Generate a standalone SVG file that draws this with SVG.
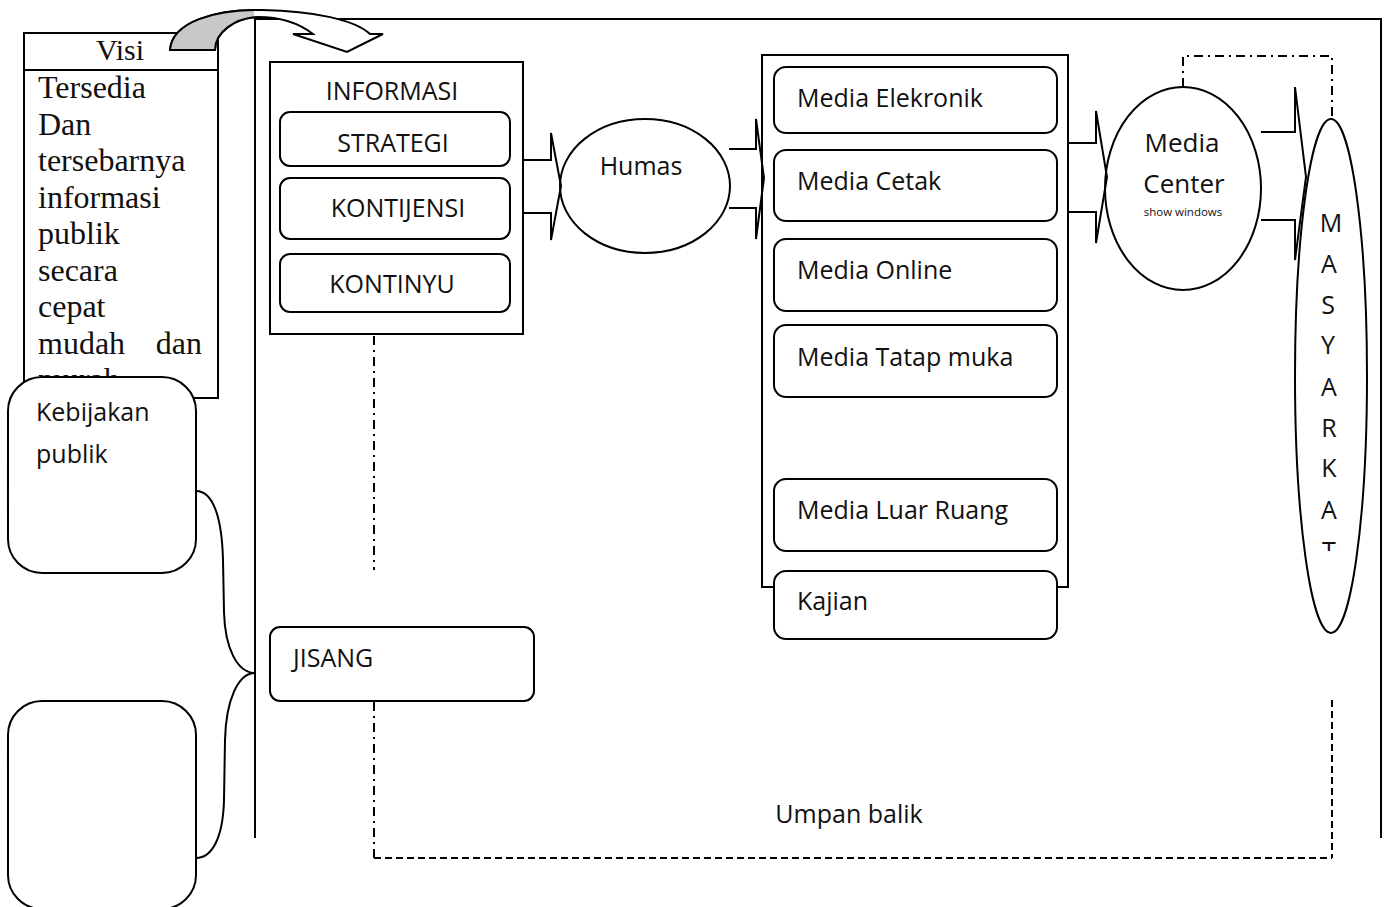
<svg xmlns="http://www.w3.org/2000/svg" width="1388" height="907" viewBox="0 0 1388 907">
  <style>
    .ln { fill: none; stroke: #000; stroke-width: 2; }
    .box { fill: #fff; stroke: #000; stroke-width: 2; }
    .blk { fill: none; stroke: #000; stroke-width: 2; stroke-linejoin: miter; }
    .sans { font-family: "Open Sans", "Noto Sans", "DejaVu Sans", sans-serif; font-size: 25px; fill: #111; }
    .serif { font-family: "Liberation Serif", "DejaVu Serif", serif; font-size: 32px; fill: #111; }
    .big { font-size: 26px; }
    .tiny { font-size: 11.5px; }
    .head { font-size: 30px; }
    .dashdot { fill: none; stroke: #000; stroke-width: 2; stroke-dasharray: 9 5 2 5; }
    .dash { fill: none; stroke: #000; stroke-width: 2; stroke-dasharray: 7 4; }
  </style>
  <defs>
    <clipPath id="leftOfFrame"><rect x="0" y="0" width="254" height="100"/></clipPath>
    <clipPath id="masyClip"><rect x="1290" y="100" width="90" height="451"/></clipPath>
  </defs>
  <rect width="1388" height="907" fill="#fff"/>

  <!-- Visi panel -->
  <g id="visi">
    <rect class="box" x="24" y="33" width="194" height="365"/>
    <line class="ln" x1="24" y1="70" x2="218" y2="70"/>
    <text class="serif head" x="120" y="60" text-anchor="middle">Visi</text>
    <text class="serif" x="38" y="98">Tersedia</text>
    <text class="serif" x="38" y="135">Dan</text>
    <text class="serif" x="38" y="171">tersebarnya</text>
    <text class="serif" x="38" y="208">informasi</text>
    <text class="serif" x="38" y="244">publik</text>
    <text class="serif" x="38" y="281">secara</text>
    <text class="serif" x="38" y="317">cepat</text>
    <text class="serif" x="38" y="354">mudah</text>
    <text class="serif" x="202" y="354" text-anchor="end">dan</text>
    <text class="serif" x="38" y="390">murah</text>
  </g>

  <!-- outer frame -->
  <g id="frame">
    <line class="ln" x1="255" y1="10" x2="255" y2="838"/>
    <polyline class="ln" points="255,19 1381,19 1381,838"/>
  </g>

  <!-- curved arrow from Visi to INFORMASI -->
  <g id="visi-arrow">
    <path d="M170,50 C172,22 215,9 262,10 C315,11 355,20 370,34 L383,34 L347,52 L293,34 L313,34 C300,24 282,17 258,17 C235,18 215,32 215,50 Z" fill="#fff" stroke="#000" stroke-width="2"/>
    <path d="M170,50 C172,22 215,9 262,10 C315,11 355,20 370,34 L383,34 L347,52 L293,34 L313,34 C300,24 282,17 258,17 C235,18 215,32 215,50 Z" fill="#c8c8c8" stroke="#000" stroke-width="2" clip-path="url(#leftOfFrame)"/>
  </g>

  <!-- Kebijakan publik -->
  <g id="kebijakan">
    <rect class="box" x="8" y="377" width="188" height="196" rx="34"/>
    <text class="sans" x="36" y="421">Kebijakan</text>
    <text class="sans" x="36" y="463">publik</text>
  </g>

  <!-- empty box bottom left -->
  <g id="kosong">
    <rect class="box" x="8" y="701" width="188" height="208" rx="34"/>
  </g>

  <!-- INFORMASI -->
  <g id="informasi">
    <rect class="box" x="270" y="62" width="253" height="272"/>
    <text class="sans" x="392" y="100" text-anchor="middle">INFORMASI</text>
  </g>
  <g id="strategi">
    <rect class="box" x="280" y="112" width="230" height="54" rx="10"/>
    <text class="sans" x="393" y="152" text-anchor="middle">STRATEGI</text>
  </g>
  <g id="kontijensi">
    <rect class="box" x="280" y="178" width="230" height="61" rx="10"/>
    <text class="sans" x="398" y="217" text-anchor="middle">KONTIJENSI</text>
  </g>
  <g id="kontinyu">
    <rect class="box" x="280" y="254" width="230" height="58" rx="10"/>
    <text class="sans" x="392" y="293" text-anchor="middle">KONTINYU</text>
  </g>

  <!-- JISANG -->
  <g id="jisang">
    <rect class="box" x="270" y="627" width="264" height="74" rx="10"/>
    <text class="sans" x="293" y="667">JISANG</text>
  </g>

  <!-- Humas -->
  <g id="humas">
    <ellipse class="box" cx="645" cy="186" rx="85" ry="67"/>
    <text class="sans" x="641" y="175" text-anchor="middle">Humas</text>
  </g>

  <!-- Media channels -->
  <g id="media">
    <rect class="box" x="762" y="55" width="306" height="532"/>
  </g>
  <g id="media-elektronik">
    <rect class="box" x="774" y="67" width="283" height="66" rx="12"/>
    <text class="sans" x="797" y="107">Media Elekronik</text>
  </g>
  <g id="media-cetak">
    <rect class="box" x="774" y="150" width="283" height="71" rx="12"/>
    <text class="sans" x="797" y="190">Media Cetak</text>
  </g>
  <g id="media-online">
    <rect class="box" x="774" y="239" width="283" height="72" rx="12"/>
    <text class="sans" x="797" y="279">Media Online</text>
  </g>
  <g id="media-tatap-muka">
    <rect class="box" x="774" y="325" width="283" height="72" rx="12"/>
    <text class="sans" x="797" y="366">Media Tatap muka</text>
  </g>
  <g id="media-luar-ruang">
    <rect class="box" x="774" y="479" width="283" height="72" rx="12"/>
    <text class="sans" x="797" y="519">Media Luar Ruang</text>
  </g>
  <g id="kajian">
    <rect class="box" x="774" y="571" width="283" height="68" rx="12"/>
    <text class="sans" x="797" y="610">Kajian</text>
  </g>

  <!-- Media Center -->
  <g id="media-center">
    <ellipse class="box" cx="1183" cy="188.5" rx="78" ry="101.5"/>
    <text class="sans big" x="1182" y="152" text-anchor="middle">Media</text>
    <text class="sans big" x="1184" y="193" text-anchor="middle">Center</text>
    <text class="sans tiny" x="1183" y="216" text-anchor="middle">show windows</text>
  </g>

  <!-- MASYARAKAT -->
  <g id="masyarakat">
    <ellipse class="box" cx="1331" cy="376" rx="36" ry="257"/>
    <g clip-path="url(#masyClip)" class="sans" text-anchor="middle">
      <text x="1331" y="232">M</text>
      <text x="1329" y="273">A</text>
      <text x="1328" y="314">S</text>
      <text x="1328" y="354">Y</text>
      <text x="1329" y="396">A</text>
      <text x="1329" y="437">R</text>
      <text x="1329" y="477">K</text>
      <text x="1329" y="519">A</text>
      <text x="1329" y="560">T</text>
    </g>
  </g>

  <!-- connectors -->
  <g id="connectors">
    <path class="blk" d="M523,160 L551,160 L551,133 L561,186 L551,240 L551,213 L523,213"/>
    <path class="blk" d="M729,149 L756,149 L756,119 L764,178 L756,239 L756,208 L729,208"/>
    <path class="blk" d="M1068,143 L1096,143 L1096,111 L1107,177 L1096,243 L1096,212 L1068,212"/>
    <path class="blk" d="M1261,132 L1295,132 L1295,87 L1306,177 L1295,260 L1295,220 L1261,220"/>

    <!-- brace joining the policy boxes to the frame -->
    <path class="ln" d="M196,491 C214,491 222,520 223,560 L224,612 C225,650 238,672 254,673 C238,674 226,700 225,740 L224,800 C223,838 212,858 196,858"/>

    <!-- dash-dot links -->
    <line class="dashdot" x1="374" y1="336" x2="374" y2="570"/>
    <polyline class="dashdot" points="1183,87 1183,56 1332,56 1332,119"/>

    <!-- feedback loop -->
    <line class="dashdot" x1="374" y1="702" x2="374" y2="858"/>
    <line class="dash" x1="374" y1="858" x2="1332" y2="858"/>
    <line class="dash" x1="1332" y1="700" x2="1332" y2="858"/>
    <text class="sans" x="849" y="823" text-anchor="middle">Umpan balik</text>
  </g>
</svg>
